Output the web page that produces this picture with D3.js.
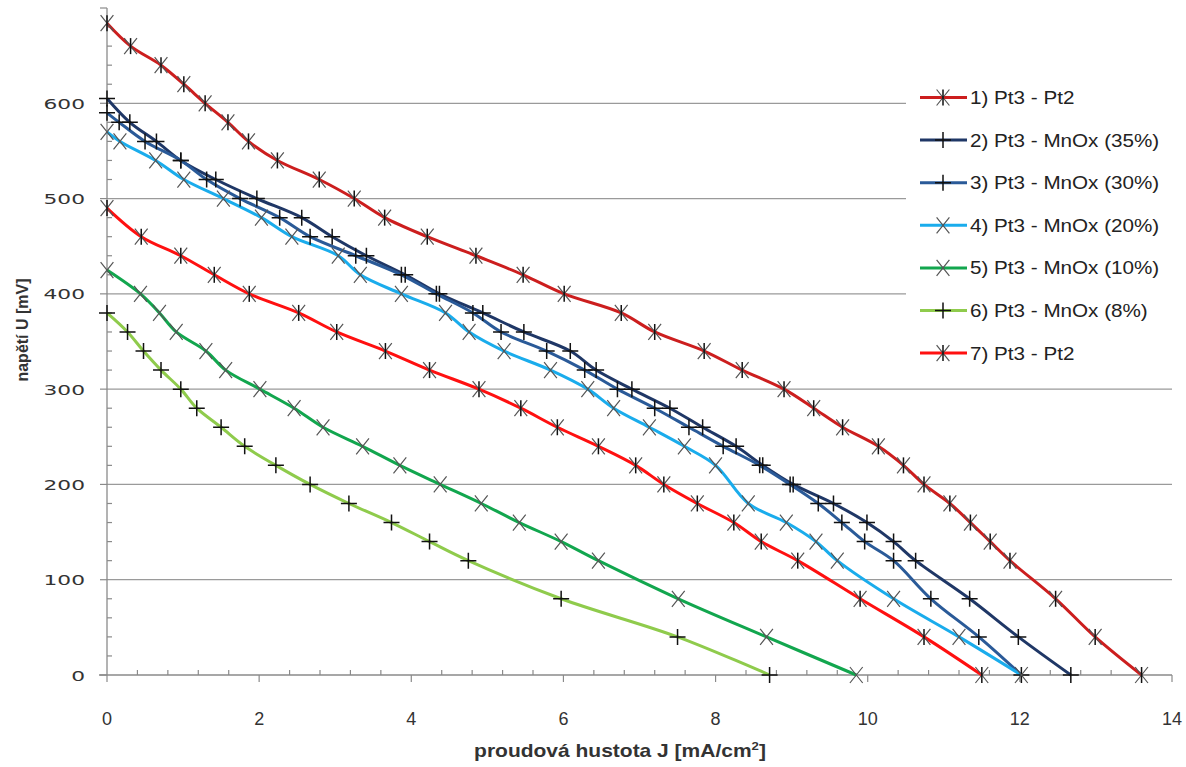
<!DOCTYPE html>
<html><head><meta charset="utf-8">
<script src="https://cdn.jsdelivr.net/npm/d3@7"></script>
<style>body{margin:0;background:#fff}</style>
</head><body>
<svg id="c" width="1186" height="767"></svg>
<script>
const seriesNames = ["1) Pt3 - Pt2","2) Pt3 - MnOx (35%)","3) Pt3 - MnOx (30%)","4) Pt3 - MnOx (20%)","5) Pt3 - MnOx (10%)","6) Pt3 - MnOx (8%)","7) Pt3 - Pt2"];
const s1J = [0,0.31,0.71,1.01,1.29,1.59,1.86,2.24,2.79,3.25,3.65,4.21,4.85,5.47,6.01,6.76,7.2,7.85,8.35,8.9,9.29,9.67,10.14,10.47,10.74,11.08,11.35,11.61,11.87,12.47,12.99,13.6];
const s1U = [684,660,640,620,600,580,560,540,520,500,480,460,440,420,400,380,360,340,320,300,280,260,240,220,200,180,160,140,120,80,40,0];
const s2J = [0,0.3,0.65,0.97,1.43,1.97,2.56,2.96,3.41,3.92,4.37,4.94,5.48,6.09,6.43,6.9,7.4,7.83,8.27,8.62,9.02,9.55,9.99,10.34,10.63,11.34,11.98,12.67];
const s2U = [605,580,560,540,520,500,480,460,440,420,400,380,360,340,320,300,280,260,240,220,200,180,160,140,120,80,40,0];
const s3J = [0,0.16,0.5,0.97,1.31,1.75,2.27,2.67,3.27,3.87,4.33,4.81,5.18,5.78,6.28,6.71,7.2,7.65,8.1,8.58,8.98,9.35,9.66,9.96,10.34,10.83,11.46,12.02];
const s3U = [590,580,560,540,520,500,480,460,440,420,400,380,360,340,320,300,280,260,240,220,200,180,160,140,120,80,40,0];
const s4J = [0,0.17,0.64,1.01,1.53,2.03,2.43,3.04,3.33,3.87,4.45,4.76,5.22,5.83,6.32,6.66,7.13,7.59,8.0,8.43,8.93,9.32,9.6,10.34,11.2,12.02];
const s4U = [570,560,540,520,500,480,460,440,420,400,380,360,340,320,300,280,260,240,220,180,160,140,120,80,40,0];
const s5J = [0,0.44,0.69,0.91,1.3,1.56,2.01,2.46,2.84,3.36,3.85,4.38,4.92,5.42,5.97,6.46,7.51,8.67,9.85];
const s5U = [425,400,380,360,340,320,300,280,260,240,220,200,180,160,140,120,80,40,0];
const s6J = [0,0.27,0.48,0.71,0.97,1.18,1.5,1.81,2.22,2.67,3.18,3.74,4.24,4.75,5.97,7.5,8.71];
const s6U = [380,360,340,320,300,280,260,240,220,200,180,160,140,120,80,40,0];
const s7J = [0,0.45,0.97,1.41,1.87,2.52,3.02,3.66,4.24,4.89,5.44,5.92,6.46,6.95,7.32,7.76,8.24,8.6,9.08,9.9,10.74,11.5];
const s7U = [490,460,440,420,400,380,360,340,320,300,280,260,240,220,200,180,160,140,120,80,40,0];
const xTicks = [0,2,4,6,8,10,12,14];
const yTicks = [0,100,200,300,400,500,600];
const xTitle = "proudová hustota J [mA/cm";
const yTitle = "napětí U [mV]";

const colors = ["#cc1e1e","#1f3766","#2a5a98","#1aacec","#12a64e","#8fcb4c","#ff1010"];
const markers = ["star","plus","plus","x","x","plus","star"];
const Js = [s1J,s2J,s3J,s4J,s5J,s6J,s7J];
const Us = [s1U,s2U,s3U,s4U,s5U,s6U,s7U];
const series = seriesNames.map((n,i)=>({name:n,color:colors[i],marker:markers[i],pts:Js[i].map((j,k)=>({j:j,u:Us[i][k]}))}));

const svg = d3.select("#c");
const x = d3.scaleLinear().domain([0,14]).range([107,1172]);
const y = d3.scaleLinear().domain([0,700]).range([675,8]);

// gridlines
svg.append("g").selectAll("line").data(yTicks.filter(d=>d>0)).join("line")
  .attr("x1",x(0)).attr("x2",x(14)).attr("y1",d=>y(d)).attr("y2",d=>y(d))
  .attr("stroke","#9a9a9a").attr("stroke-width",1.3);

// legend background (covers gridlines)
svg.append("rect").attr("x",906).attr("y",76).attr("width",280).attr("height",296).attr("fill","#fff");

// y axis
const gy = svg.append("g");
gy.append("line").attr("x1",x(0)).attr("x2",x(0)).attr("y1",y(700)).attr("y2",y(0)).attr("stroke","#8a8a8a").attr("stroke-width",1.3);
gy.selectAll(".mn").data(d3.range(0,701,20)).join("line")
  .attr("x1",d=>d%100===0?x(0)-7:x(0)).attr("x2",d=>d%100===0?x(0):x(0)+5)
  .attr("y1",d=>y(d)).attr("y2",d=>y(d)).attr("stroke","#8a8a8a").attr("stroke-width",1.2);
gy.selectAll("text").data(yTicks).join("text")
  .attr("transform",d=>`translate(85,${y(d)+5.5}) scale(1.5,1)`)
  .attr("text-anchor","end").attr("font-family","DejaVu Sans").attr("font-size",14.5).attr("fill","#333")
  .text(d=>d);

// x axis
const gx = svg.append("g");
gx.append("line").attr("x1",x(0)-8).attr("x2",x(14)).attr("y1",y(0)).attr("y2",y(0)).attr("stroke","#8a8a8a").attr("stroke-width",1.3);
gx.selectAll(".mn").data(d3.range(0,70.1,2).map(d=>d/5)).join("line")
  .attr("x1",d=>x(d)).attr("x2",d=>x(d))
  .attr("y1",(d,i)=>i%5===0?y(0)+7:y(0)-5).attr("y2",(d,i)=>i%5===0?y(0):y(0))
  .attr("stroke","#8a8a8a").attr("stroke-width",1.2);
gx.selectAll("text").data(xTicks).join("text")
  .attr("x",d=>x(d)).attr("y",725).attr("text-anchor","middle")
  .attr("font-family","Liberation Sans").attr("font-size",18).attr("fill","#333")
  .text(d=>d);

// titles
const xt = svg.append("text").attr("transform","translate(620,757) scale(1.2,1)").attr("text-anchor","middle")
  .attr("font-family","Liberation Sans").attr("font-weight","bold").attr("font-size",17.5).attr("fill","#333");
xt.append("tspan").text(xTitle);
xt.append("tspan").attr("dy",-7).attr("font-size",11).text("2");
xt.append("tspan").attr("dy",7).text("]");
svg.append("text").attr("transform","translate(28,330) rotate(-90)").attr("text-anchor","middle")
  .attr("font-family","Liberation Sans").attr("font-weight","bold").attr("font-size",16).attr("fill","#333")
  .text(yTitle);

function markerPath(type, cx, cy, r){
  const p = d3.path();
  if(type==="plus"||type==="star"){ p.moveTo(cx,cy-r); p.lineTo(cx,cy+r); }
  if(type==="plus"){ p.moveTo(cx-r,cy); p.lineTo(cx+r,cy); }
  return p.toString();
}
function xPath(cx,cy,r){
  const p = d3.path();
  p.moveTo(cx-r*0.8,cy-r); p.lineTo(cx+r*0.8,cy+r);
  p.moveTo(cx+r*0.8,cy-r); p.lineTo(cx-r*0.8,cy+r);
  return p.toString();
}
function drawMarker(g, type, cx, cy, r){
  if(type==="x"||type==="star"){
    g.append("path").attr("d",xPath(cx,cy,r)).attr("stroke","#555").attr("stroke-width",1.2).attr("fill","none");
  }
  g.append("path").attr("d",markerPath(type,cx,cy,r)).attr("stroke","#111").attr("stroke-width",1.5).attr("fill","none");
}

const line = d3.line().x(d=>x(d.j)).y(d=>y(d.u)).curve(d3.curveCatmullRom.alpha(0.5));
series.forEach(s=>{
  svg.append("path").datum(s.pts).attr("d",line).attr("fill","none").attr("stroke",s.color).attr("stroke-width",3);
});
series.forEach(s=>{
  const g = svg.append("g");
  s.pts.forEach(p=>drawMarker(g,s.marker,x(p.j),y(p.u),8));
});

// legend
const lg = svg.append("g");
series.forEach((s,i)=>{
  const yy = 97.5 + i*42.6;
  lg.append("line").attr("x1",920).attr("x2",967).attr("y1",yy).attr("y2",yy).attr("stroke",s.color).attr("stroke-width",3);
  drawMarker(lg,s.marker,943,yy,8);
  lg.append("text").attr("transform",`translate(970,${yy+6.5}) scale(1.18,1)`).attr("font-family","Liberation Sans").attr("font-size",17.5).attr("fill","#222").text(s.name);
});
</script>
</body></html>
